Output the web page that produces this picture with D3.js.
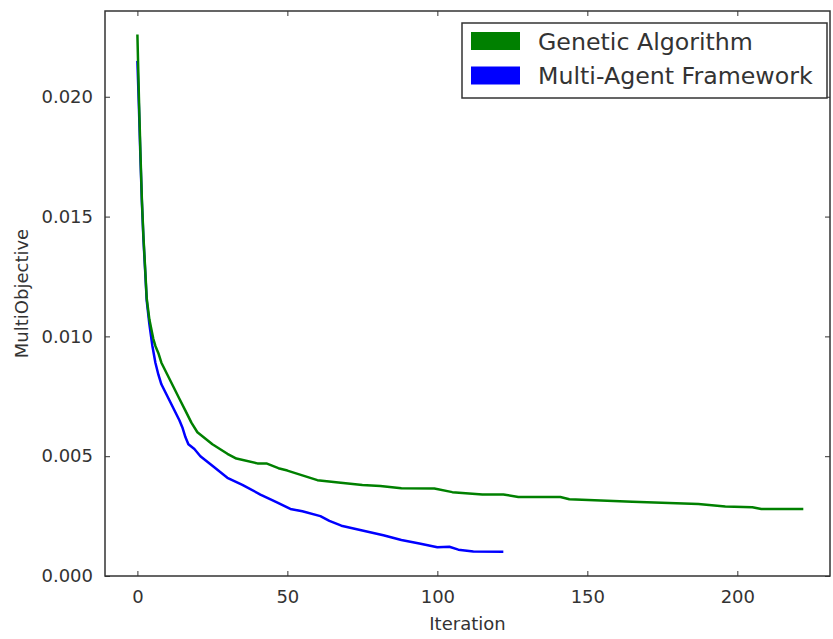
<!DOCTYPE html>
<html>
<head>
<meta charset="utf-8">
<script src="https://cdn.jsdelivr.net/npm/d3@7"></script>
<style>
  body { margin: 0; background: #fff; }
  text { font-family: "DejaVu Sans", sans-serif; fill: #333; }
</style>
</head>
<body>
<svg id="chart"></svg>
<script>
// values
var gaIter = [0, 0.5, 1, 1.5, 2, 2.6, 3.1, 4, 5.3, 6, 7, 8, 10, 12, 14, 16, 18, 20, 25, 30, 33, 40, 43, 47, 50, 55, 60, 67, 75, 81, 88, 99, 105, 115, 122, 127, 138, 141, 144, 165, 187, 196, 205, 208, 222];
var gaValue = [0.0226, 0.0200, 0.0177, 0.0157, 0.0142, 0.0128, 0.0116, 0.0107, 0.0099, 0.0096, 0.0093, 0.0089, 0.0084, 0.0079, 0.0074, 0.0069, 0.0064, 0.0060, 0.0055, 0.0051, 0.0049, 0.0047, 0.0047, 0.0045, 0.0044, 0.0042, 0.0040, 0.0039, 0.0038, 0.00376, 0.00366, 0.00365, 0.0035, 0.0034, 0.0034, 0.0033, 0.0033, 0.0033, 0.0032, 0.0031, 0.0030, 0.0029, 0.00287, 0.0028, 0.0028];

var mafIter = [0, 0.5, 1, 1.5, 2, 2.6, 3.1, 4, 5, 6, 7, 8, 10, 12, 14, 15, 16, 17, 19, 21, 25, 30, 35, 41, 46, 51, 55, 61, 64, 68, 75, 82, 88, 94, 100, 104, 107, 112, 122];
var mafValue = [0.0215, 0.0196, 0.0175, 0.0156, 0.0141, 0.0127, 0.0115, 0.0105, 0.0096, 0.0089, 0.0084, 0.0080, 0.0075, 0.0070, 0.0065, 0.0062, 0.0058, 0.0055, 0.0053, 0.0050, 0.0046, 0.0041, 0.0038, 0.0034, 0.0031, 0.0028, 0.0027, 0.0025, 0.0023, 0.0021, 0.0019, 0.0017, 0.0015, 0.00136, 0.0012, 0.00122, 0.0011, 0.00102, 0.00101];

var seriesNames = ["Genetic Algorithm", "Multi-Agent Framework"];
var seriesColors = ["#008000", "#0000ff"];
var xTicks = [0, 50, 100, 150, 200];
var yTicks = [0, 0.005, 0.010, 0.015, 0.020];

var width = 833, height = 639;
var margin = {top: 11, left: 105, bottom: 63, right: 3};
var plotW = width - margin.left - margin.right;
var plotH = height - margin.top - margin.bottom;

var svg = d3.select("#chart")
    .attr("width", width)
    .attr("height", height);

var xScale = d3.scaleLinear()
    .domain([-10.8, 230.9])
    .range([0, plotW]);

var yScale = d3.scaleLinear()
    .domain([0, 0.02358])
    .range([plotH, 0]);

var plot = svg.append("g")
    .attr("transform", "translate(" + margin.left + "," + margin.top + ")");

var series = [
    {name: seriesNames[0], color: seriesColors[0], data: d3.zip(gaIter, gaValue)},
    {name: seriesNames[1], color: seriesColors[1], data: d3.zip(mafIter, mafValue)}
];

var line = d3.line()
    .x(function (d) { return xScale(d[0]); })
    .y(function (d) { return yScale(d[1]); });

// draw GA last so it sits on top where the curves overlap
series.slice().reverse().forEach(function (s) {
    plot.append("path")
        .datum(s.data)
        .attr("fill", "none")
        .attr("stroke", s.color)
        .attr("stroke-width", 2.5)
        .attr("stroke-linejoin", "round")
        .attr("d", line);
});

// axes, ticks pointing inward like matplotlib classic
function styleAxis(g) {
    g.select(".domain").remove();
    g.selectAll(".tick line").attr("stroke", "#333").attr("stroke-width", 1);
    g.selectAll(".tick text").style("font-size", "18px").attr("fill", "#333");
}

plot.append("g")
    .attr("transform", "translate(0," + plotH + ")")
    .call(d3.axisBottom(xScale).tickValues(xTicks).tickSizeInner(-5).tickPadding(14).tickFormat(d3.format("d")))
    .call(styleAxis);

plot.append("g")
    .call(d3.axisTop(xScale).tickValues(xTicks).tickSizeInner(-5).tickFormat(""))
    .call(styleAxis);

plot.append("g")
    .call(d3.axisLeft(yScale).tickValues(yTicks).tickSizeInner(-5).tickPadding(12).tickFormat(d3.format(".3f")))
    .call(styleAxis);

plot.append("g")
    .attr("transform", "translate(" + plotW + ",0)")
    .call(d3.axisRight(yScale).tickValues(yTicks).tickSizeInner(-5).tickFormat(""))
    .call(styleAxis);

plot.append("rect")
    .attr("width", plotW)
    .attr("height", plotH)
    .attr("fill", "none")
    .attr("stroke", "#333")
    .attr("stroke-width", 1.5);

svg.append("text")
    .attr("x", margin.left + plotW / 2)
    .attr("y", 630)
    .attr("text-anchor", "middle")
    .style("font-size", "18px")
    .text("Iteration");

svg.append("text")
    .attr("transform", "translate(28," + (margin.top + plotH / 2) + ") rotate(-90)")
    .attr("text-anchor", "middle")
    .style("font-size", "18px")
    .text("MultiObjective");

// legend
var legend = svg.append("g");
legend.append("rect")
    .attr("x", 462).attr("y", 23)
    .attr("width", 365).attr("height", 75)
    .attr("fill", "#fff")
    .attr("stroke", "#333")
    .attr("stroke-width", 1.5);

series.forEach(function (s, i) {
    legend.append("rect")
        .attr("x", 471).attr("y", 32 + i * 34.5)
        .attr("width", 49).attr("height", 18)
        .attr("fill", s.color);
    legend.append("text")
        .attr("x", 538).attr("y", 49.5 + i * 34.5)
        .style("font-size", "23.7px")
        .text(s.name);
});
</script>
</body>
</html>
